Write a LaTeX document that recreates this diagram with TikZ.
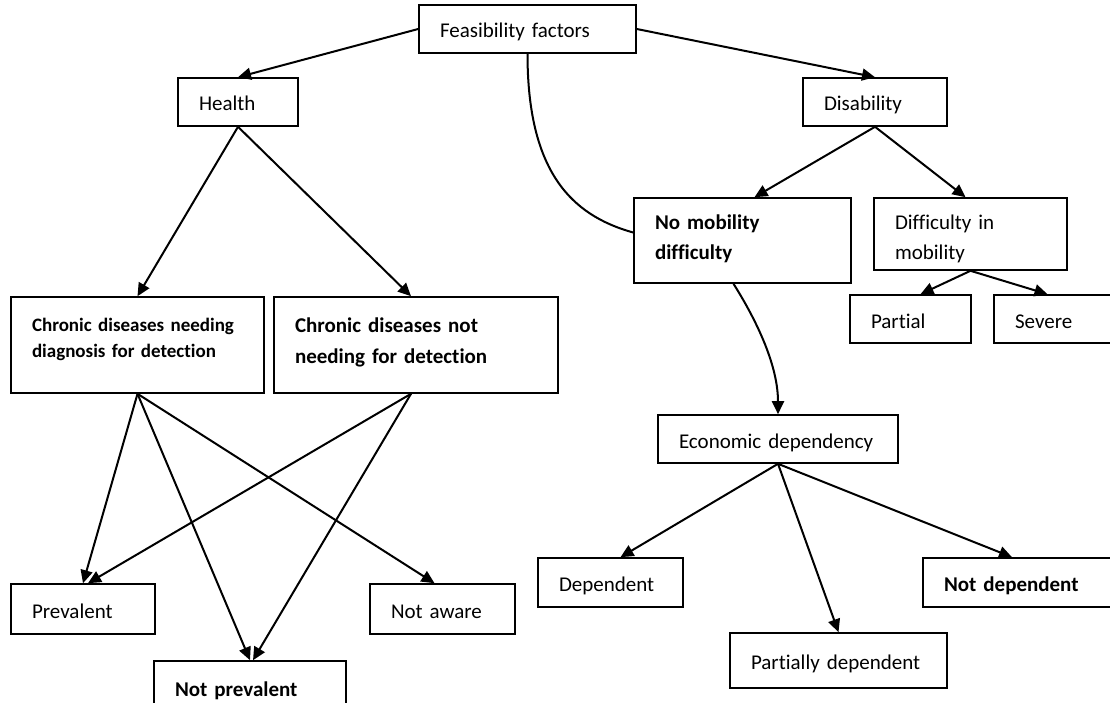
\documentclass[tikz,border=0pt]{standalone}
\usepackage{fontspec}
\setmainfont{Carlito}[Ligatures={NoCommon}]
\usetikzlibrary{arrows.meta, calc}

\begin{document}
\begin{tikzpicture}[x=1pt, y=-1pt,
    box/.style={draw, line width=1.6pt, align=left, inner xsep=21pt, inner ysep=0pt,
        text height=20pt, text depth=2pt, font=\fontsize{21}{29}\selectfont},
    boldbox/.style={box, font=\fontsize{21}{29}\selectfont\bfseries},
    link/.style={line width=2pt, -{Triangle[length=13pt, width=12pt]}}]
    \useasboundingbox (0,0) rectangle (1110,703);

    \node[box, text width=175pt, minimum height=48pt] (feas) at (527.5,29) {Feasibility factors};
    \node[box, text width=78pt, minimum height=48pt] (health) at (238,102) {Health};
    \node[box, text width=102pt, minimum height=48pt] (disab) at (875,102) {Disability};

    \node[box, font=\fontsize{19}{26}\selectfont\bfseries, text width=211pt, minimum height=96pt,
        text height=10pt, text depth=38pt] (chrA) at (137.5,345) {Chronic diseases needing\\diagnosis for detection};
    \node[boldbox, font=\fontsize{21}{31}\selectfont\bfseries, text width=242pt, minimum height=96pt,
        text height=10pt, text depth=36pt] (chrB) at (416,345) {Chronic diseases not\\needing for detection};

    \node[boldbox, text width=175pt, minimum height=85pt, text height=10pt, text depth=31pt] (nomob) at (742.5,240.5) {No mobility\\difficulty};
    \node[box, text width=151pt, minimum height=72pt, text height=10pt, text depth=18pt] (diffm) at (970.5,234) {Difficulty in\\mobility};
    \node[box, text width=79pt, minimum height=48pt] (partial) at (910.5,319) {Partial};
    \node[box, text width=79pt, minimum height=48pt] (severe) at (1054.5,319) {Severe};

    \node[box, text width=198pt, minimum height=48pt] (econ) at (778,439) {Economic dependency};
    \node[box, text width=103pt, minimum height=49pt] (dep) at (610.5,582.5) {Dependent};
    \node[box, text width=175pt, minimum height=55pt] (partdep) at (838.5,660.5) {Partially dependent};
    \node[boldbox, text width=158pt, minimum height=49pt] (notdep) at (1023,582.5) {Not dependent};

    \node[box, text width=102pt, minimum height=50pt] (prev) at (83,609) {Prevalent};
    \node[boldbox, text width=150pt, minimum height=52pt] (notprev) at (250,687) {Not prevalent};
    \node[box, text width=103pt, minimum height=50pt] (notaware) at (442.5,609) {Not aware};

    \draw[link] (feas.west) -- (health.north);
    \draw[link] (feas.east) -- (disab.north);
    \draw[line width=2pt] (feas.south) .. controls (527.5,170) and (570,215) .. ([yshift=8pt]nomob.west);

    \draw[link] (disab.south) -- ([xshift=12pt]nomob.north);
    \draw[link] (disab.south) -- ([xshift=-5pt]diffm.north);
    \draw[link] (diffm.south) -- ([xshift=10pt]partial.north);
    \draw[link] (diffm.south) -- ([xshift=-7pt]severe.north);

    \draw[link] ([xshift=-9pt]nomob.south) .. controls (750,310) and (778,360) .. (econ.north);
    \draw[link] (econ.south) -- ([xshift=10pt]dep.north);
    \draw[link] (econ.south) -- (partdep.north);
    \draw[link] (econ.south) -- ([xshift=-11pt]notdep.north);

    \draw[link] (health.south) -- (chrA.north);
    \draw[link] (health.south) -- ([xshift=-5pt]chrB.north);
    \draw[link] (chrA.south) -- (prev.north);
    \draw[link] (chrA.south) -- (notprev.north);
    \draw[link] (chrA.south) -- ([xshift=-8pt]notaware.north);
    \draw[link] ([xshift=-5pt]chrB.south) -- ([xshift=5pt]prev.north);
    \draw[link] ([xshift=-5pt]chrB.south) -- ([xshift=3pt]notprev.north);
\end{tikzpicture}
\end{document}
